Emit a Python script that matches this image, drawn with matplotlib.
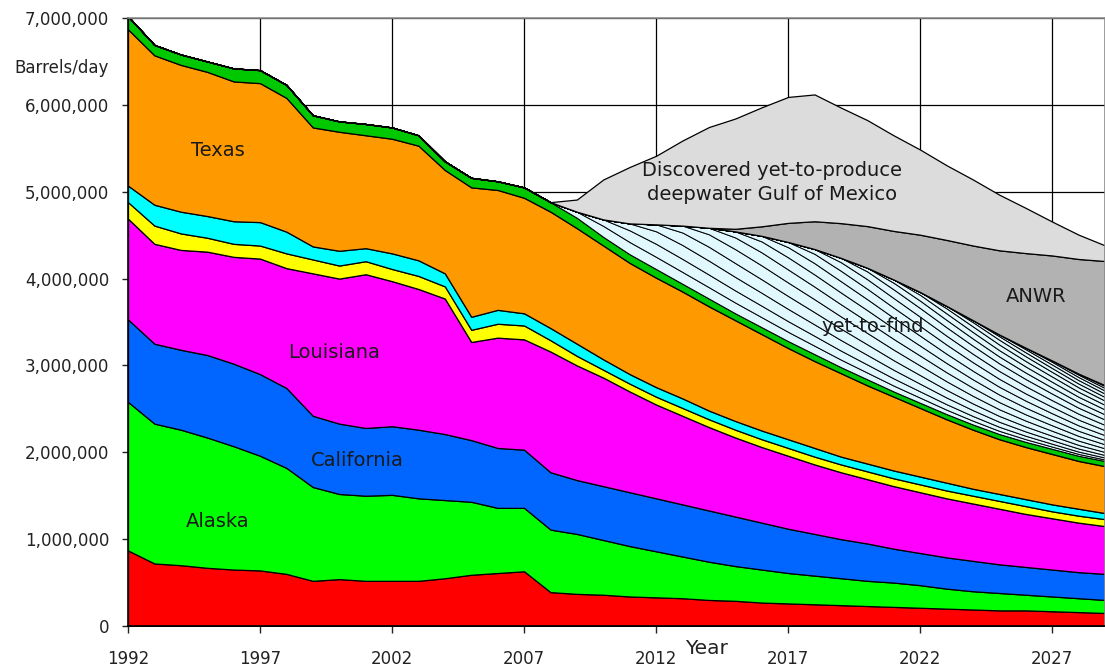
import matplotlib
matplotlib.use("Agg")
import matplotlib.pyplot as plt
from matplotlib.ticker import FuncFormatter
import numpy as np

plt.rcParams['font.family'] = ['DejaVu Sans']

# U.S. crude production by source, thousand barrels/day, 1992-2029
years = list(range(1992, 2030))

other_states = [870, 720, 700, 670, 650, 640, 600, 520, 540, 520, 520, 520, 550, 590, 610, 630,
                390, 370, 360, 340, 330, 320, 300, 290, 270, 260, 250, 240, 230, 220, 210, 200,
                190, 180, 180, 170, 160, 150]
alaska = [1710, 1610, 1560, 1500, 1420, 1320, 1220, 1080, 980, 980, 990, 950, 900, 840, 750, 730,
          720, 690, 630, 580, 530, 480, 440, 400, 380, 350, 330, 310, 290, 280, 260, 230,
          210, 200, 180, 170, 160, 150]
california = [950, 920, 920, 950, 950, 940, 920, 820, 810, 780, 790, 790, 760, 710, 690, 670,
              660, 620, 620, 620, 610, 600, 590, 570, 540, 510, 480, 450, 430, 390, 370, 360,
              350, 330, 320, 310, 300, 300]
louisiana = [1160, 1150, 1150, 1190, 1230, 1330, 1380, 1640, 1670, 1770, 1670, 1620, 1560, 1130, 1270, 1270,
             1390, 1320, 1250, 1160, 1080, 1020, 960, 910, 870, 840, 800, 770, 740, 720, 700, 680,
             660, 640, 610, 590, 570, 550]
yellow_band = [190, 210, 190, 160, 150, 150, 170, 160, 150, 150, 140, 150, 140, 140, 160, 160,
               130, 110, 90, 90, 90, 90, 90, 90, 90, 90, 90, 90, 90, 90, 90, 90,
               90, 90, 90, 80, 80, 80]
cyan_band = [190, 240, 250, 250, 260, 270, 250, 150, 170, 150, 180, 180, 150, 150, 160, 140,
             140, 140, 120, 110, 110, 110, 100, 100, 100, 100, 100, 90, 90, 90, 90, 90,
             80, 80, 80, 80, 80, 70]
texas = [1800, 1720, 1690, 1660, 1610, 1600, 1540, 1370, 1370, 1300, 1320, 1320, 1190, 1490, 1380, 1330,
         1340, 1330, 1310, 1280, 1260, 1230, 1200, 1160, 1110, 1050, 1000, 960, 900, 850, 790, 730,
         680, 630, 600, 580, 550, 540]
dark_green_band = [150, 120, 120, 120, 150, 150, 150, 140, 120, 130, 130, 120, 100, 110, 100, 120,
                   110, 120, 100, 100, 100, 90, 90, 80, 80, 80, 80, 70, 70, 60, 60, 60,
                   60, 60, 60, 60, 60, 60]

# yet-to-find: one cohort of discoveries per year from 2009; each cohort follows the same
# production profile (share of peak by years since first oil), scaled by the cohort's peak rate
ytf_first_year = 2009
ytf_cohort_peak = [140, 150, 160, 160, 160, 150, 140, 130, 120, 110, 100, 85, 75, 65, 55, 45,
                   40, 35, 30, 25, 20]
ytf_profile = [0.50, 0.90, 1.00, 1.00, 0.97, 0.93, 0.88, 0.82, 0.76, 0.69, 0.62, 0.55, 0.48,
               0.42, 0.36, 0.31, 0.26, 0.22, 0.18, 0.15, 0.12]

anwr = [0] * 23 + [30, 110, 220, 320, 400, 480, 560, 660, 760, 860, 970, 1090, 1210, 1320, 1430]
discovered_gom = [0] * 17 + [140, 460, 650, 790, 980, 1160, 1270, 1370, 1450, 1460, 1330, 1220,
                             1100, 980, 860, 760, 640, 520, 390, 280, 180]

n = len(years)
cohorts = []
for k, peak in enumerate(ytf_cohort_peak):
    start = years.index(ytf_first_year + k)
    row = np.zeros(n)
    for age in range(n - start):
        row[start + age] = peak * ytf_profile[age]
    cohorts.append(row)

base_layers = [other_states, alaska, california, louisiana, yellow_band, cyan_band, texas, dark_green_band]
base_colors = ['#FF0000', '#00FF00', '#0066FF', '#FF00FF', '#FFFF00', '#00FFFF', '#FF9900', '#00C800']

layers = [np.array(v) * 1000 for v in base_layers] + [c * 1000 for c in cohorts] \
    + [np.array(anwr) * 1000, np.array(discovered_gom) * 1000]
colors = base_colors + ['#E2F8FF'] * len(cohorts) + ['#B2B2B2', '#DCDCDC']

fig = plt.figure(figsize=(11.05, 6.71), dpi=100)
ax = fig.add_axes([128 / 1105, 45 / 671, 977 / 1105, 608 / 671])

polys = ax.stackplot(years, *layers, colors=colors, edgecolor='black', linewidth=0.9)
for p in polys[len(base_layers):len(base_layers) + len(cohorts)]:
    p.set_linewidth(0.7)

ax.set_xlim(1992, 2029)
ax.set_ylim(0, 7000000)
ax.set_xticks(range(1992, 2029, 5))
ax.set_yticks(range(0, 7000001, 1000000))
ax.yaxis.set_major_formatter(FuncFormatter(lambda v, p: f'{int(v):,}'))
ax.grid(True, color='black', linewidth=0.9)
ax.set_axisbelow(True)

ax.tick_params(axis='y', direction='out', length=4.5, width=1, pad=9, labelsize=12, colors='#222222')
ax.tick_params(axis='x', direction='out', length=5, width=1, pad=12, labelsize=12, colors='#222222')
for side in ['left', 'bottom']:
    ax.spines[side].set_color('black')
    ax.spines[side].set_linewidth(1.2)
for side in ['top', 'right']:
    ax.spines[side].set_color('#8C8C8C')
    ax.spines[side].set_linewidth(1.2)

label_kw = dict(fontsize=14, color='#1A1A1A', ha='center', va='center')
ax.text(1995.4, 5480000, 'Texas', **label_kw)
ax.text(1999.8, 3150000, 'Louisiana', **label_kw)
ax.text(2000.7, 1900000, 'California', **label_kw)
ax.text(1995.4, 1200000, 'Alaska', **label_kw)
ax.text(2016.4, 5110000, 'Discovered yet-to-produce\ndeepwater Gulf of Mexico',
        linespacing=1.35, **label_kw)
ax.text(2020.2, 3450000, 'yet-to-find', **label_kw)
ax.text(2026.4, 3790000, 'ANWR', **label_kw)

ax.text(-0.0675, 0.918, 'Barrels/day', transform=ax.transAxes, fontsize=12,
        color='#222222', ha='center', va='center')
ax.text(2013.9, -0.037, 'Year', transform=ax.get_xaxis_transform(), fontsize=14.5,
        color='#222222', ha='center', va='center')

fig.savefig('out.png', dpi=100)
